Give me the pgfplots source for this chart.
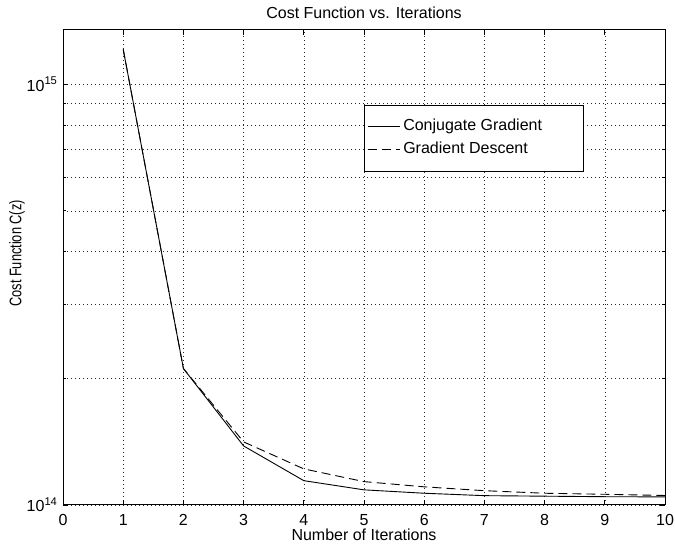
\documentclass[border=0pt]{standalone}
\usepackage{fontspec}
\setmainfont{Liberation Sans}
\usepackage{graphicx}
\usepackage{pgfplots}
\pgfplotsset{compat=1.18}
\begin{document}
\fontsize{16}{19}\selectfont
\begin{tikzpicture}
\begin{axis}[
  scale only axis,
  width=602pt, height=475pt,
  ymode=log,
  xmin=0, xmax=10, ymin=1e14, ymax=1.346e15,
  xtick={0,1,...,10},
  ytick={1e14,1e15},
  yticklabels={10\textsuperscript{14},10\textsuperscript{15}},
  minor ytick={2e14,3e14,4e14,5e14,6e14,7e14,8e14,9e14},
  /pgf/number format/assume math mode=true,
  tick align=inside, tick pos=both,
  major tick length=5pt, minor tick length=3pt,
  xmajorgrids=true, ymajorgrids=true, yminorgrids=true,
  grid style={black!85, line width=0.6pt, dash pattern=on 1pt off 3pt},
  axis line style={line width=0.9pt},
  every tick/.style={black, line width=0.8pt},
  title={Cost Function vs. Iterations},
  title style={at={(axis description cs:0.5,1.0112)}, anchor=base, inner sep=0pt},
  xlabel={Number of Iterations},
  xlabel style={at={(axis description cs:0.5,-0.0758)}, anchor=base, inner sep=0pt},
  ylabel={\scalebox{0.8}[1.05]{Cost Function C(z)}},
  ylabel style={at={(axis description cs:-0.0764,0.5295)}, anchor=center, inner sep=0pt},
  xticklabel style={anchor=base, yshift=-21pt, inner sep=0pt, text depth=0pt},
  legend cell align=left,
  legend image code/.code={\draw[#1] (0pt,0pt) -- (32pt,0pt);},
  legend style={at={(0.5,0.8421)}, anchor=north west, draw=black, line width=0.8pt,
    fill=white, inner xsep=3pt, inner ysep=10pt, row sep=0pt,
    nodes={inner xsep=3pt, inner ysep=4pt, text height=11.5pt, text depth=3.5pt, line width=0.9pt}},
]
\addplot[black, line width=0.9pt] coordinates {
  (1,1.211e15) (2,2.11e14) (3,1.381e14) (4,1.142e14) (5,1.086e14)
  (6,1.066e14) (7,1.052e14) (8,1.049e14) (9,1.046e14) (10,1.045e14)};
\addlegendentry{Conjugate Gradient\hspace*{35pt}}
\addplot[black, line width=0.9pt, dash pattern=on 9pt off 5pt] coordinates {
  (1,1.211e15) (2,2.11e14) (3,1.412e14) (4,1.218e14) (5,1.136e14)
  (6,1.104e14) (7,1.081e14) (8,1.066e14) (9,1.060e14) (10,1.053e14)};
\addlegendentry{Gradient Descent}
\end{axis}
\pgfresetboundingbox
\path (current axis.south west) ++(-63pt,-45pt) coordinate (bbA);
\path (current axis.north east) ++(10pt,30pt) coordinate (bbB);
\path[use as bounding box] (bbA) rectangle (bbB);
\end{tikzpicture}
\end{document}
